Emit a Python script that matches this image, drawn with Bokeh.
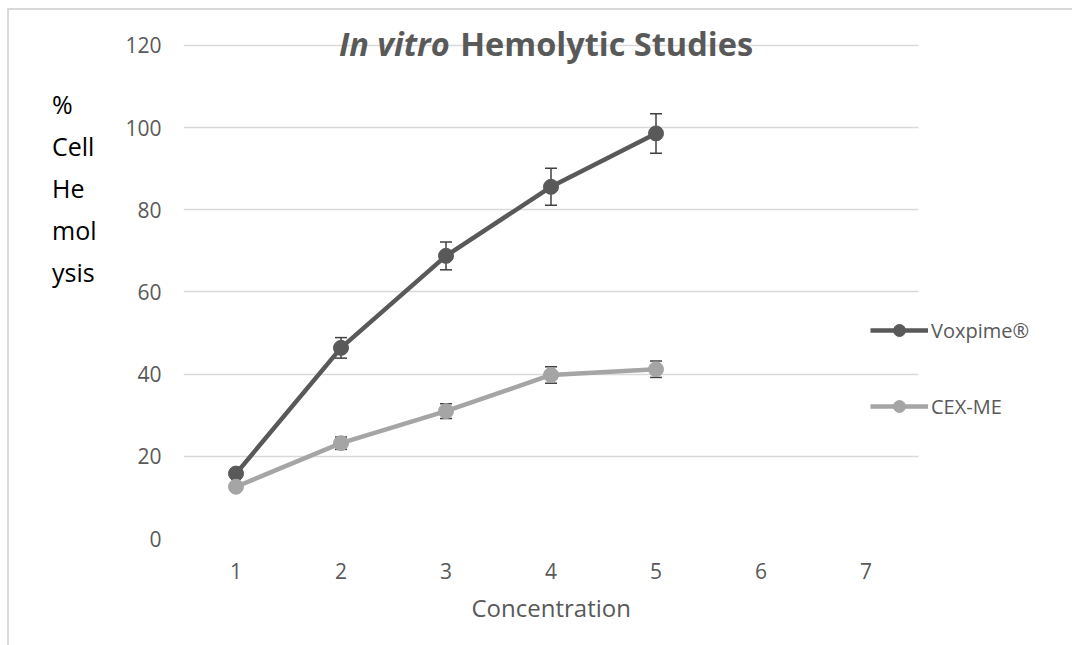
from bokeh.plotting import figure
from bokeh.layouts import row
from bokeh.models import (Range1d, FixedTicker, Whisker, ColumnDataSource, Label,
                          Legend, LegendItem, TeeHead, Title, Div)
from bokeh.embed import file_html
from bokeh.resources import INLINE

# ---- data ----
concentration = [1, 2, 3, 4, 5]
voxpime = [15.8, 46.4, 68.8, 85.6, 98.6]
voxpime_err = [1.0, 2.5, 3.4, 4.5, 4.8]
cexme = [12.6, 23.2, 31.0, 39.8, 41.2]
cexme_err = [0.8, 1.5, 1.8, 2.0, 2.0]
x_ticks = [1, 2, 3, 4, 5, 6, 7]
y_ticks = [0, 20, 40, 60, 80, 100, 120]
series_names = ["Voxpime\u00ae", "CEX-ME"]
title_italic = "In vitro"
title_rest = "Hemolytic Studies"
y_title_lines = ["%", "Cell", "He", "mol", "ysis"]
x_title = "Concentration"

FONT = "Open Sans"
DARK = "#595959"
LIGHT = "#a5a5a5"
TXT = "#595959"

DIV_W = 99
p = figure(width=956, height=632, output_backend="svg", toolbar_location=None,
           x_range=Range1d(0.5, 8.938), y_range=Range1d(0, 123.65),
           min_border_left=65, min_border_right=5, min_border_top=20,
           min_border_bottom=104)
p.outline_line_color = None
p.background_fill_color = "white"
p.border_fill_color = "white"

p.xgrid.grid_line_color = None
p.ygrid.grid_line_color = "#d9d9d9"
p.ygrid.grid_line_width = 1.5
p.ygrid.cross_bounds = (0.5, 7.5)

for ax in (p.xaxis[0], p.yaxis[0]):
    ax.axis_line_color = None
    ax.major_tick_line_color = None
    ax.minor_tick_line_color = None
    ax.major_tick_out = 0
    ax.major_tick_in = 0
    ax.major_label_text_font = FONT
    ax.major_label_text_color = TXT
    ax.major_label_text_font_size = "21px"

p.xaxis.ticker = FixedTicker(ticks=x_ticks)
p.yaxis.ticker = FixedTicker(ticks=y_ticks)
p.xaxis.major_label_standoff = 24
p.yaxis.major_label_standoff = 22

# x-axis title, aligned over the 0.5..7.5 part of the frame
p.add_layout(Title(text=x_title, align="left", offset=288, standoff=15,
                   text_font=FONT, text_font_style="normal",
                   text_font_size="24px", text_color=TXT), "below")

src_v = ColumnDataSource(dict(x=concentration, y=voxpime,
                              lo=[a - b for a, b in zip(voxpime, voxpime_err)],
                              hi=[a + b for a, b in zip(voxpime, voxpime_err)]))
src_c = ColumnDataSource(dict(x=concentration, y=cexme,
                              lo=[a - b for a, b in zip(cexme, cexme_err)],
                              hi=[a + b for a, b in zip(cexme, cexme_err)]))

lv = p.line("x", "y", source=src_v, line_color=DARK, line_width=4.5)
cv = p.scatter("x", "y", source=src_v, size=15, fill_color=DARK, line_color=DARK)
lc = p.line("x", "y", source=src_c, line_color=LIGHT, line_width=4.5)
cc = p.scatter("x", "y", source=src_c, size=15, fill_color=LIGHT, line_color=LIGHT)

for src in (src_v, src_c):
    w = Whisker(source=src, base="x", lower="lo", upper="hi",
                line_color="#404040", line_width=1.5,
                upper_head=TeeHead(size=12, line_color="#404040", line_width=1.5),
                lower_head=TeeHead(size=12, line_color="#404040", line_width=1.5))
    p.add_layout(w)

legend = Legend(items=[LegendItem(label=series_names[0], renderers=[lv, cv]),
                       LegendItem(label=series_names[1], renderers=[lc, cc])],
                location=(687, 117), orientation="vertical",
                glyph_width=58, glyph_height=30, label_height=20,
                spacing=46, padding=0, margin=0, label_standoff=3,
                label_text_font=FONT, label_text_font_size="20px",
                label_text_color=TXT,
                background_fill_alpha=0, border_line_color=None)
p.add_layout(legend)

# title (mixed italic / upright)
p.add_layout(Label(x=3.035, y=115.1, text=title_italic, text_align="right",
                   text_font=FONT, text_font_style="bold italic",
                   text_font_size="32.5px", text_color=TXT))
p.add_layout(Label(x=3.135, y=115.1, text=title_rest, text_align="left",
                   text_font=FONT, text_font_style="bold",
                   text_font_size="32.5px", text_color=TXT))

# stacked y-axis title, to the left of the plot
ytitle = Div(text="<br>".join(y_title_lines), width=DIV_W, height=632,
             styles={"font-family": FONT, "font-size": "25px", "line-height": "42px",
                     "color": "black", "padding-left": "38px", "padding-top": "68px",
                     "box-sizing": "border-box", "background": "white"})

layout = row(ytitle, p, spacing=0,
             styles={"margin-left": "7px", "margin-top": "8px",
                     "border-left": "2px solid #d9d9d9",
                     "border-top": "2px solid #d9d9d9"})

open("out.html", "w").write(file_html(layout, INLINE))
